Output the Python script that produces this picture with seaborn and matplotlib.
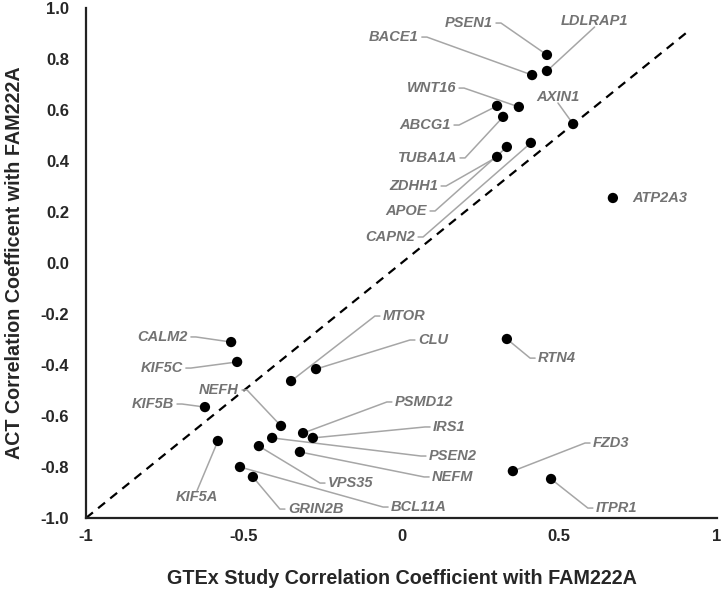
import numpy as np
import pandas as pd
import seaborn as sns
import matplotlib.pyplot as plt

# gene, GTEx r, ACT r
genes = ['PSEN1', 'LDLRAP1', 'BACE1', 'WNT16', 'AXIN1', 'ABCG1', 'TUBA1A', 'ZDHH1',
         'APOE', 'CAPN2', 'ATP2A3', 'MTOR', 'CLU', 'RTN4', 'CALM2', 'KIF5C', 'KIF5B',
         'KIF5A', 'NEFH', 'PSMD12', 'IRS1', 'PSEN2', 'NEFM', 'VPS35', 'BCL11A',
         'GRIN2B', 'FZD3', 'ITPR1']
gtex = [0.461, 0.461, 0.414, 0.372, 0.544, 0.303, 0.322, 0.303,
        0.334, 0.410, 0.670, -0.350, -0.271, 0.334, -0.540, -0.521, -0.623,
        -0.582, -0.382, -0.312, -0.281, -0.410, -0.322, -0.452, -0.512,
        -0.471, 0.353, 0.474]
act = [0.816, 0.753, 0.737, 0.612, 0.545, 0.616, 0.573, 0.416,
       0.455, 0.471, 0.255, -0.463, -0.416, -0.298, -0.310, -0.388, -0.565,
       -0.698, -0.639, -0.667, -0.686, -0.686, -0.741, -0.718, -0.800,
       -0.839, -0.816, -0.847]

# label placement (data coords) and which side the leader leaves from
lab_x = [0.290, 0.612, 0.055, 0.173, 0.496, 0.157, 0.176, 0.116,
         0.081, 0.043, 0.731, -0.059, 0.052, 0.433, -0.677, -0.693, -0.721,
         -0.648, -0.515, -0.021, 0.100, 0.087, 0.097, -0.233, -0.033,
         -0.360, 0.607, 0.616]
lab_y = [0.941, 0.949, 0.886, 0.686, 0.651, 0.541, 0.412, 0.302,
         0.204, 0.102, 0.255, -0.208, -0.302, -0.373, -0.290, -0.412, -0.553,
         -0.918, -0.498, -0.545, -0.643, -0.757, -0.839, -0.863, -0.957,
         -0.965, -0.706, -0.961]
lab_side = ['r', 'b', 'r', 'r', 'b', 'r', 'r', 'r',
            'r', 'r', 'n', 'l', 'l', 'l', 'r', 'r', 'r',
            't', 'r', 'l', 'l', 'l', 'l', 'l', 'l',
            'l', 'l', 'l']

diag = [-1, 0.91]
xticks = [-1, -0.5, 0, 0.5, 1]
xtick_labels = ['-1', '-0.5', '0', '0.5', '1']
yticks = [-1.0, -0.8, -0.6, -0.4, -0.2, 0.0, 0.2, 0.4, 0.6, 0.8, 1.0]
ytick_labels = ['-1.0', '-0.8', '-0.6', '-0.4', '-0.2', '0.0', '0.2', '0.4', '0.6', '0.8', '1.0']

df = pd.DataFrame({'gene': genes, 'gtex': gtex, 'act': act})

sns.set_style('white')
plt.rcParams['font.family'] = ['Liberation Sans', 'DejaVu Sans']

fig = plt.figure(figsize=(7.21, 5.93), dpi=100)
ax = fig.add_axes([86 / 721, 1 - 518 / 593, 631 / 721, 510 / 593])

ax.plot(diag, diag, color='black', ls=(0, (4, 3)), lw=1.6, zorder=1)

grey_line = '#a6a6a6'
grey_text = '#737373'
tr = ax.transData
inv = tr.inverted()
for g, x, y, lx, ly, side in zip(genes, gtex, act, lab_x, lab_y, lab_side):
    ha = {'r': 'right', 'l': 'left', 'b': 'center', 't': 'center', 'n': 'left'}[side]
    ax.text(lx, ly, g, ha=ha, va='center', fontsize=10.5, fontweight='bold',
            fontstyle='italic', color=grey_text)
    if side == 'n':
        continue
    tx, ty = tr.transform((lx, ly))
    if side == 'r':
        pts = [(tx + 6, ty), (tx + 16, ty)]
    elif side == 'l':
        pts = [(tx - 6, ty), (tx - 16, ty)]
    elif side == 'b':
        pts = [(tx, ty - 12)]
    else:
        pts = [(tx, ty + 13)]
    pts = [inv.transform(p) for p in pts] + [(x, y)]
    ax.plot([p[0] for p in pts], [p[1] for p in pts], color=grey_line, lw=1.1, zorder=2)

sns.scatterplot(data=df, x='gtex', y='act', color='black', s=55, edgecolor='none',
                ax=ax, zorder=3)

ax.set_xlim(-1, 1)
ax.set_ylim(-1, 1)
ax.set_xticks(xticks)
ax.set_xticklabels(xtick_labels)
ax.set_yticks(yticks)
ax.set_yticklabels(ytick_labels)
ax.tick_params(length=0, labelsize=12)
ax.tick_params(axis='x', pad=8)
ax.tick_params(axis='y', pad=12)
for lbl in ax.get_xticklabels() + ax.get_yticklabels():
    lbl.set_fontweight('bold')

for s in ['top', 'right']:
    ax.spines[s].set_visible(False)
for s in ['left', 'bottom']:
    ax.spines[s].set_color('#222222')
    ax.spines[s].set_linewidth(1.6)

ax.set_xlabel('GTEx Study Correlation Coefficient with FAM222A', fontsize=14.2,
              fontweight='bold', labelpad=18)
ax.set_ylabel('ACT Correlation Coefficent with FAM222A', fontsize=14.2,
              fontweight='bold', labelpad=12)

plt.savefig('out.png', dpi=100)
